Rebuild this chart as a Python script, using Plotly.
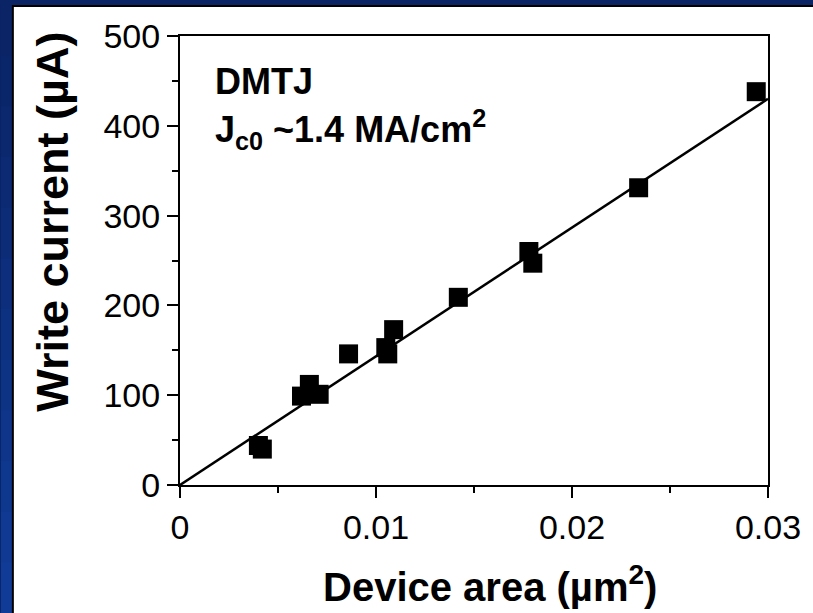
import plotly.graph_objects as go

# Data
area = [0.0040, 0.0042, 0.0062, 0.0066, 0.0071, 0.0086, 0.0105, 0.0106,
        0.0109, 0.0142, 0.0178, 0.0180, 0.0234, 0.0294]
current = [44, 40, 99, 112, 101, 146, 153, 146, 173, 209, 260, 247, 331, 438]
fit_area = [0.0, 0.03]
fit_current = [0.0, 430.0]

x_ticks = [0, 0.01, 0.02, 0.03]
x_ticklabels = ["0", "0.01", "0.02", "0.03"]
y_ticks = [0, 100, 200, 300, 400, 500]

W, H = 813, 613
ML, MR, MT, MB = 180, 42, 36, 128
PW, PH = W - ML - MR, H - MT - MB


def px(x):
    return (x - ML) / PW


def py(y):
    return (H - MB - y) / PH


FONT = "Arial, Liberation Sans, sans-serif"

fig = go.Figure()

fig.add_trace(go.Scatter(x=fit_area, y=fit_current, mode="lines",
                         line=dict(color="black", width=2.5),
                         showlegend=False, hoverinfo="skip"))
fig.add_trace(go.Scatter(x=area, y=current, mode="markers",
                         marker=dict(symbol="square", size=19, color="black",
                                     line=dict(width=0)),
                         showlegend=False))

shapes = []
# left strip gradient
n = 12
top_c = (10, 36, 102)
bot_c = (16, 60, 152)
for i in range(n):
    t = i / (n - 1)
    c = tuple(int(top_c[k] + (bot_c[k] - top_c[k]) * t) for k in range(3))
    y0 = 5 + (H - 5) * i / n
    y1 = 5 + (H - 5) * (i + 1) / n
    shapes.append(dict(type="rect", xref="paper", yref="paper", layer="below",
                       x0=px(0), x1=px(12), y0=py(y1 + 1), y1=py(y0),
                       fillcolor="rgb(%d,%d,%d)" % c, line=dict(width=0)))
# white panel with black border
shapes.append(dict(type="rect", xref="paper", yref="paper", layer="below",
                   x0=px(12), x1=px(W + 5), y0=py(H + 5), y1=py(6),
                   fillcolor="white", line=dict(color="black", width=2)))
fig.update_layout(shapes=shapes)

fig.add_annotation(x=px(213), y=py(82), xref="paper", yref="paper",
                   xanchor="left", yanchor="middle", showarrow=False,
                   text="<b>DMTJ</b>",
                   font=dict(family=FONT, size=36, color="black"))
fig.add_annotation(x=px(213), y=py(129), xref="paper", yref="paper",
                   xanchor="left", yanchor="middle", showarrow=False,
                   text="<b>J<sub>c0</sub> ~1.4 MA/cm<sup>2</sup></b>",
                   font=dict(family=FONT, size=36, color="black"))

# axis titles
fig.add_annotation(x=px(492), y=py(584), xref="paper", yref="paper",
                   xanchor="center", yanchor="middle", showarrow=False,
                   text="<b>Device area (µm<sup>2</sup>)</b>",
                   font=dict(family=FONT, size=40, color="black"))
fig.add_annotation(x=px(51), y=py(222), xref="paper", yref="paper",
                   xanchor="center", yanchor="middle", showarrow=False,
                   textangle=-90,
                   text="<b>Write current (µA)</b>",
                   font=dict(family=FONT, size=45, color="black"))

axis_common = dict(showline=True, linecolor="black", linewidth=2, mirror=True,
                   showgrid=False, zeroline=False, ticks="outside",
                   ticklen=11, tickwidth=2, tickcolor="black",
                   tickfont=dict(family=FONT, size=34, color="black"),
                   minor=dict(ticks="outside", ticklen=6, tickwidth=2, tickcolor="black"))

fig.update_xaxes(range=[0, 0.03], tickvals=x_ticks, ticktext=x_ticklabels,
                 minor_dtick=0.005, **axis_common)
fig.update_yaxes(range=[0, 500], tickvals=y_ticks, minor_dtick=50, **axis_common)

fig.update_layout(width=W, height=H,
                  margin=dict(l=ML, r=MR, t=MT, b=MB),
                  paper_bgcolor="rgb(10,36,102)", plot_bgcolor="white",
                  showlegend=False)

fig.write_html("out.html",
               config={"displayModeBar": False},
               post_script="document.body.style.margin='0';"
                           "document.body.style.overflow='hidden';")
